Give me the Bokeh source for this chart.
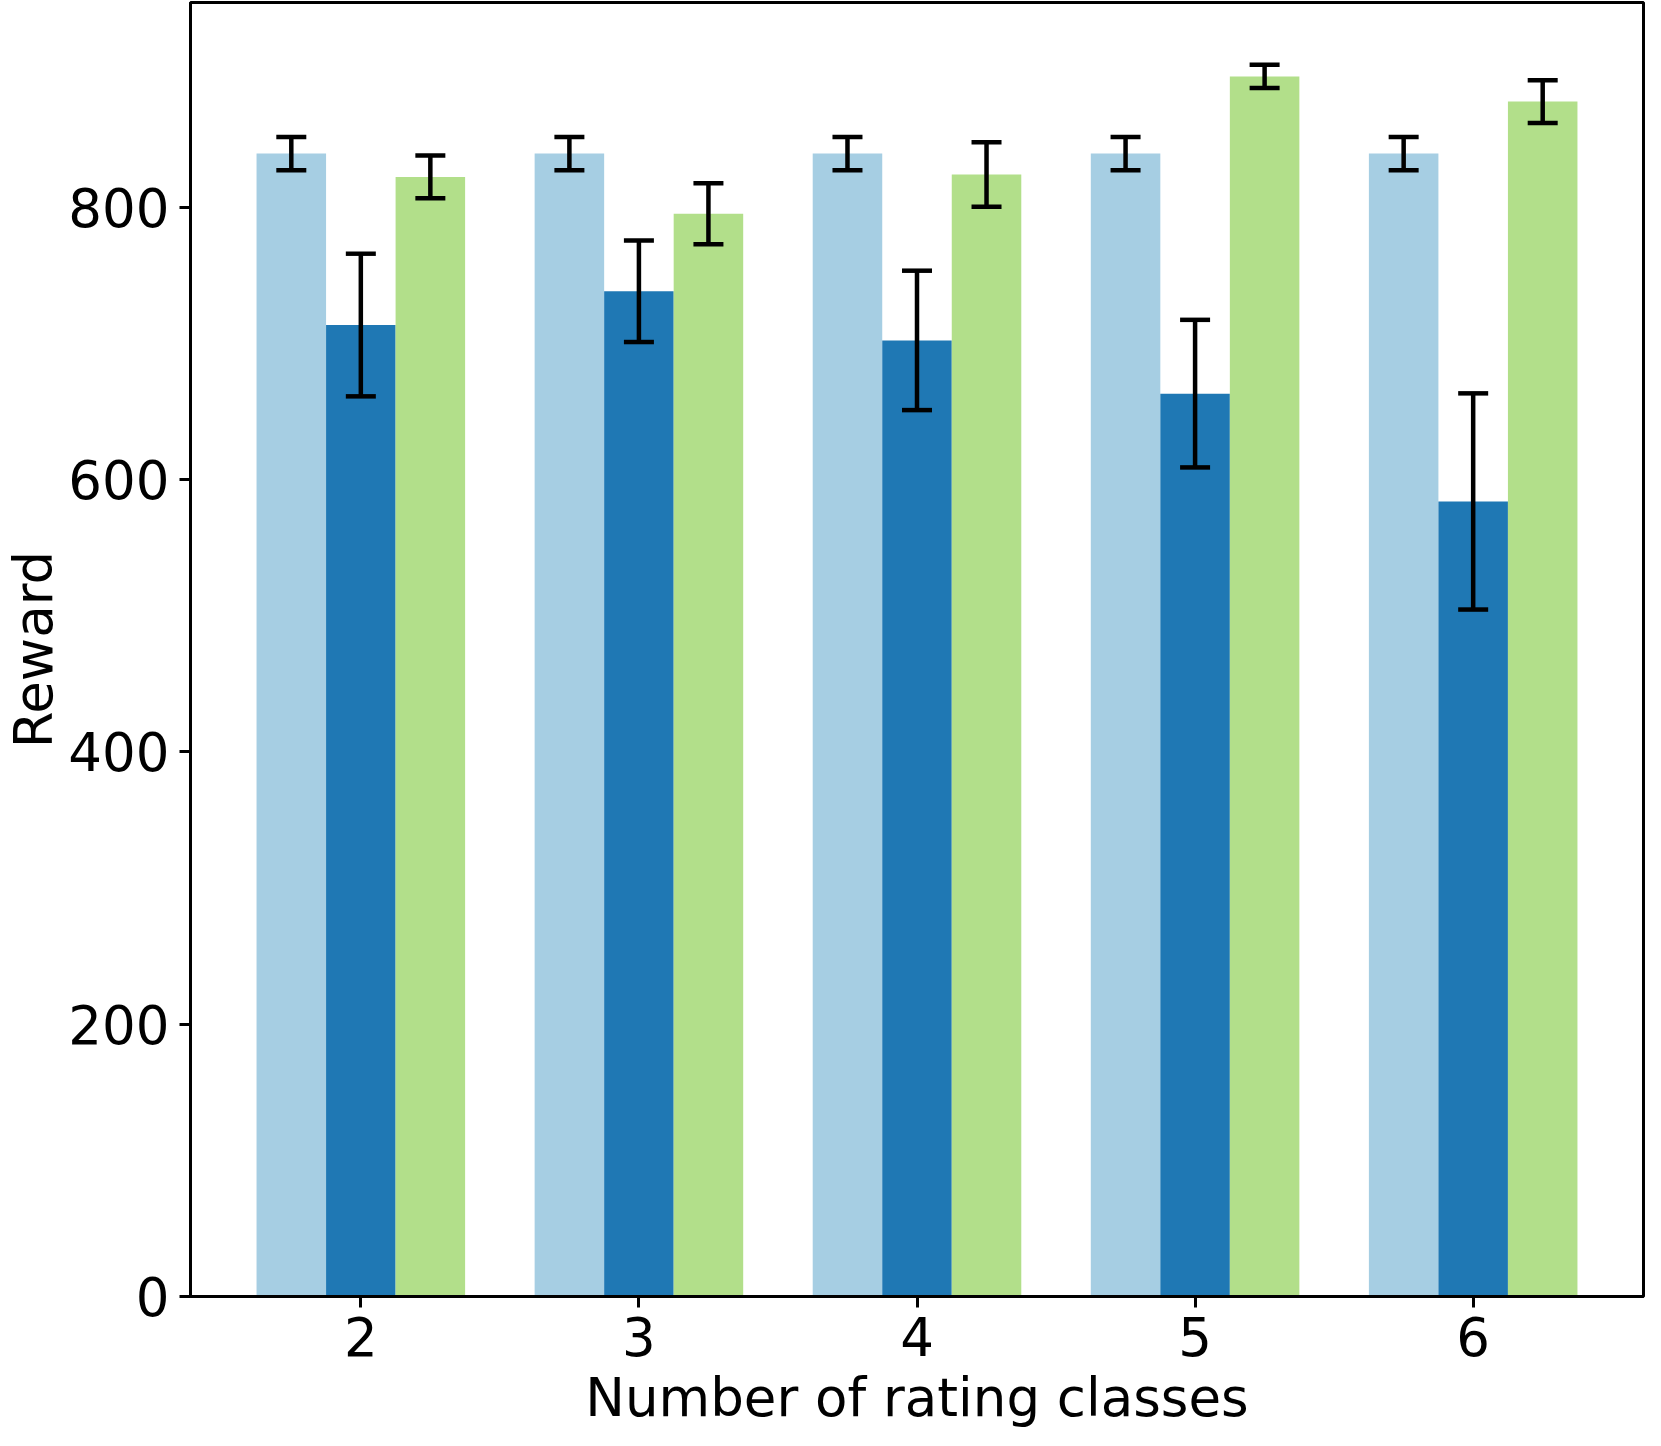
from bokeh.plotting import figure
from bokeh.models import ColumnDataSource, Whisker, TeeHead, Range1d, FixedTicker
from bokeh.embed import file_html
from bokeh.resources import INLINE

# ---- data ----
classes = [2, 3, 4, 5, 6]
baseline_mean = [839.5, 839.5, 839.5, 839.5, 839.5]
baseline_err = [12.2, 12.2, 12.2, 12.2, 12.2]
method_a_mean = [713.6, 738.4, 702.3, 663.2, 584.0]
method_a_err = [52.4, 37.3, 51.2, 54.2, 79.4]
method_b_mean = [822.4, 795.4, 824.1, 896.2, 877.7]
method_b_err = [15.7, 22.4, 23.7, 8.5, 15.7]
x_ticks = [2, 3, 4, 5, 6]
y_ticks = [0, 200, 400, 600, 800]

series = [
    (baseline_mean, baseline_err, -0.25, "#a6cee3"),
    (method_a_mean, method_a_err, 0.0, "#1f78b4"),
    (method_b_mean, method_b_err, 0.25, "#b2df8a"),
]
bar_width = 0.25

FONT = "DejaVu Sans"
FS = "53px"

p = figure(width=1645, height=1430, output_backend="svg", toolbar_location=None,
           x_range=Range1d(1.3875, 6.6125), y_range=Range1d(0, 950.5),
           min_border_left=178, min_border_right=2, min_border_top=2, min_border_bottom=120)

for means, errs, off, col in series:
    xs = [c + off for c in classes]
    src = ColumnDataSource(dict(x=xs, top=means,
                                lower=[m - e for m, e in zip(means, errs)],
                                upper=[m + e for m, e in zip(means, errs)]))
    p.vbar(x="x", top="top", bottom=0, width=bar_width, source=src,
           fill_color=col, line_color=None)
    w = Whisker(base="x", lower="lower", upper="upper", source=src,
                line_color="black", line_width=4.5, level="overlay",
                upper_head=TeeHead(size=30, line_color="black", line_width=4.5),
                lower_head=TeeHead(size=30, line_color="black", line_width=4.5))
    p.add_layout(w)

p.xgrid.visible = False
p.ygrid.visible = False
p.outline_line_color = "black"
p.outline_line_width = 3
p.outline_line_alpha = 1.0
p.background_fill_color = "white"
p.border_fill_color = "white"

for ax in (p.xaxis[0], p.yaxis[0]):
    ax.axis_line_color = "black"
    ax.axis_line_width = 3
    ax.major_tick_line_color = "black"
    ax.major_tick_line_width = 3
    ax.major_tick_out = 11
    ax.major_tick_in = 0
    ax.minor_tick_line_color = None
    ax.major_label_text_font = FONT
    ax.major_label_text_font_size = FS
    ax.major_label_text_color = "black"
    ax.axis_label_text_font = FONT
    ax.axis_label_text_font_size = FS
    ax.axis_label_text_font_style = "normal"
    ax.axis_label_text_color = "black"

p.xaxis.ticker = FixedTicker(ticks=x_ticks)
p.yaxis.ticker = FixedTicker(ticks=y_ticks)
p.xaxis.axis_label = "Number of rating classes"
p.yaxis.axis_label = "Reward"
p.xaxis.major_label_standoff = 9
p.yaxis.major_label_standoff = 10
p.xaxis.axis_label_standoff = 8
p.yaxis.axis_label_standoff = 1

open("out.html", "w").write(file_html(p, INLINE))
